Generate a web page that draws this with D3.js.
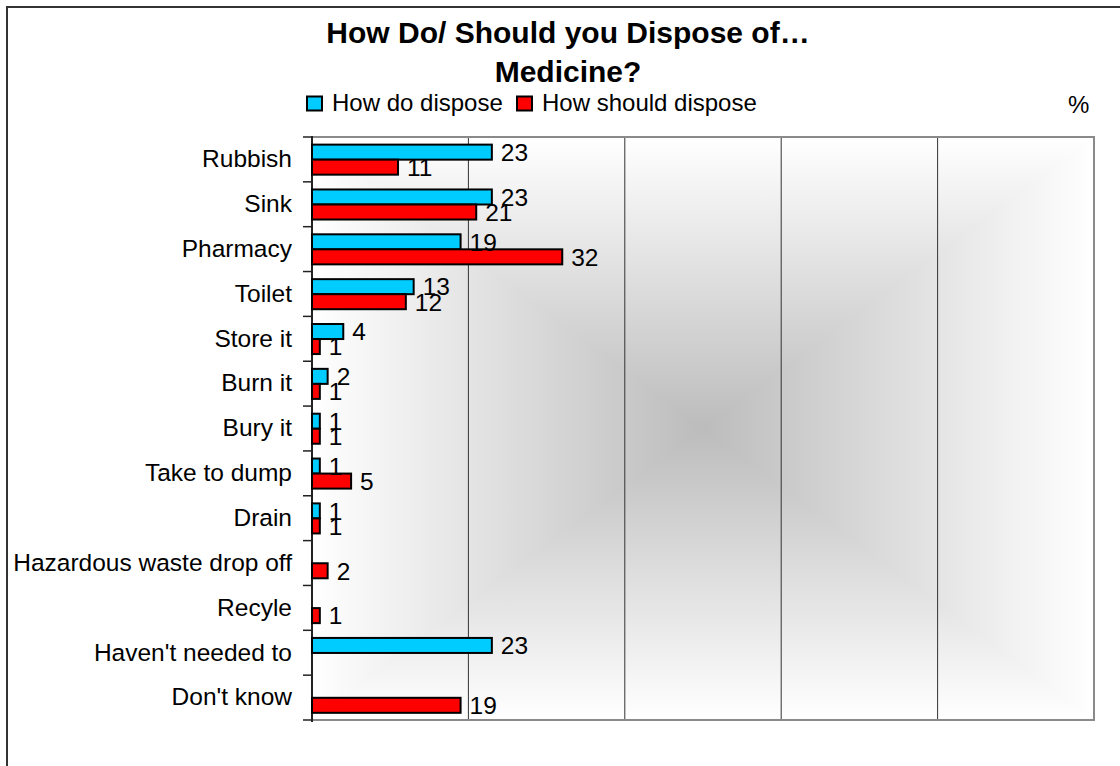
<!DOCTYPE html>
<html>
<head>
<meta charset="utf-8">
<script src="https://cdn.jsdelivr.net/npm/d3@7"></script>
<style>
  html, body { margin: 0; padding: 0; background: #fff; }
  svg { display: block; }
  text { font-family: Arial, "Liberation Sans", sans-serif; fill: #000; }
</style>
</head>
<body>
<svg id="chart" width="1120" height="766"></svg>
<script>
const categories = ["Rubbish","Sink","Pharmacy","Toilet","Store it","Burn it","Bury it","Take to dump","Drain","Hazardous waste drop off","Recyle","Haven't needed to","Don't know"];
const howDo     = [23, 23, 19, 13, 4, 2, 1, 1, 1, null, null, 23, null];
const howShould = [11, 21, 32, 12, 1, 1, 1, 5, 1, 2, 1, null, 19];
const seriesNames = ["How do dispose", "How should dispose"];
const seriesColors = ["#00ccff", "#ff0000"];
const xTicks = [0, 20, 40, 60, 80, 100];
const titleLines = ["How Do/ Should you Dispose of\u2026", "Medicine?"];

const svg = d3.select("#chart");
const W = 1120, H = 766;
const m = { left: 312, right: 1094, top: 137, bottom: 720 };

// outer chart border (only top/left visible)
svg.append("rect").attr("x", 7).attr("y", 7).attr("width", W + 20).attr("height", H + 20)
  .attr("fill", "#fff").attr("stroke", "#333").attr("stroke-width", 2);

const x = d3.scaleLinear().domain([0, 100]).range([m.left, m.right]);
const y = d3.scaleBand().domain(categories).range([m.top, m.bottom]).padding(0);
const bw = y.bandwidth();
const y1 = d3.scaleBand().domain(seriesNames).range([bw * 0.17, bw * 0.84]).padding(0);

// plot area background: rectangular "from center" gradient
const defs = svg.append("defs");
const cx = (m.left + m.right) / 2, cy = (m.top + m.bottom) / 2;
const centerCol = "#bcbcbc", edgeCol = "#ffffff";
function grad(id, x1, y1_, x2, y2) {
  const g = defs.append("linearGradient").attr("id", id).attr("gradientUnits", "userSpaceOnUse")
    .attr("x1", x1).attr("y1", y1_).attr("x2", x2).attr("y2", y2);
  g.append("stop").attr("offset", 0).attr("stop-color", edgeCol);
  g.append("stop").attr("offset", 1).attr("stop-color", centerCol);
}
grad("gL", m.left, 0, cx, 0);
grad("gR", m.right, 0, cx, 0);
grad("gT", 0, m.top, 0, cy);
grad("gB", 0, m.bottom, 0, cy);
const bg = svg.append("g");
bg.append("rect").attr("x", m.left).attr("y", m.top).attr("width", cx - m.left).attr("height", m.bottom - m.top).attr("fill", "url(#gL)");
bg.append("rect").attr("x", cx).attr("y", m.top).attr("width", m.right - cx).attr("height", m.bottom - m.top).attr("fill", "url(#gR)");
bg.append("polygon").attr("points", [[m.left, m.top],[m.right, m.top],[cx, cy]].join(" ")).attr("fill", "url(#gT)");
bg.append("polygon").attr("points", [[m.left, m.bottom],[m.right, m.bottom],[cx, cy]].join(" ")).attr("fill", "url(#gB)");

// gridlines
svg.append("g").selectAll("line").data(xTicks.filter(t => t > 0 && t < 100)).join("line")
  .attr("x1", d => x(d)).attr("x2", d => x(d)).attr("y1", m.top).attr("y2", m.bottom)
  .attr("stroke", "#333").attr("stroke-width", 1);

// plot border
svg.append("rect").attr("x", m.left).attr("y", m.top).attr("width", m.right - m.left).attr("height", m.bottom - m.top)
  .attr("fill", "none").attr("stroke", "#8a8a8a").attr("stroke-width", 2);

// y axis
const yAxis = d3.axisLeft(y).tickSize(0).tickPadding(20);
const gy = svg.append("g").attr("transform", `translate(${m.left},0)`).call(yAxis);
gy.select(".domain").remove();
gy.selectAll("text").attr("font-size", 24.5).attr("font-family", "Arial, 'Liberation Sans', sans-serif").attr("fill", "#000");
// band boundary tick marks
const bounds = categories.map(c => y(c)).concat([m.bottom]);
svg.append("g").selectAll("line").data(bounds).join("line")
  .attr("x1", m.left - 9).attr("x2", m.left).attr("y1", d => d).attr("y2", d => d)
  .attr("stroke", "#222").attr("stroke-width", 1.5);
svg.append("line").attr("x1", m.left).attr("x2", m.left).attr("y1", m.top - 1).attr("y2", m.bottom + 2)
  .attr("stroke", "#222").attr("stroke-width", 2);

// bars
const rows = categories.map((c, i) => ({ cat: c, vals: [howDo[i], howShould[i]] }));
const gBars = svg.append("g");
rows.forEach(r => {
  r.vals.forEach((v, k) => {
    if (v == null) return;
    const yy = y(r.cat) + y1(seriesNames[k]);
    gBars.append("rect")
      .attr("x", x(0)).attr("y", yy)
      .attr("width", x(v) - x(0)).attr("height", y1.bandwidth())
      .attr("fill", seriesColors[k]).attr("stroke", "#000").attr("stroke-width", 2);
  });
});
// labels
rows.forEach(r => {
  r.vals.forEach((v, k) => {
    if (v == null) return;
    const yy = y(r.cat) + y1(seriesNames[k]) + y1.bandwidth() / 2;
    svg.append("text").attr("x", x(v) + 9).attr("y", yy).attr("dy", "0.36em")
      .attr("font-size", 24.5).text(v);
  });
});

// title
const tt = svg.append("text").attr("text-anchor", "middle").attr("font-weight", "bold").attr("font-size", 30);
titleLines.forEach((t, i) => tt.append("tspan").attr("x", 568).attr("y", 43 + i * 39).text(t));

// legend
const legX = [307, 517];
seriesNames.forEach((s, i) => {
  svg.append("rect").attr("x", legX[i]).attr("y", 96.5).attr("width", 15).attr("height", 14)
    .attr("fill", seriesColors[i]).attr("stroke", "#000").attr("stroke-width", 2);
  svg.append("text").attr("x", legX[i] + 25).attr("y", 111).attr("font-size", 24).text(s);
});

// unit label
svg.append("text").attr("x", 1068).attr("y", 113).attr("font-size", 24).text("%");
</script>
</body>
</html>
